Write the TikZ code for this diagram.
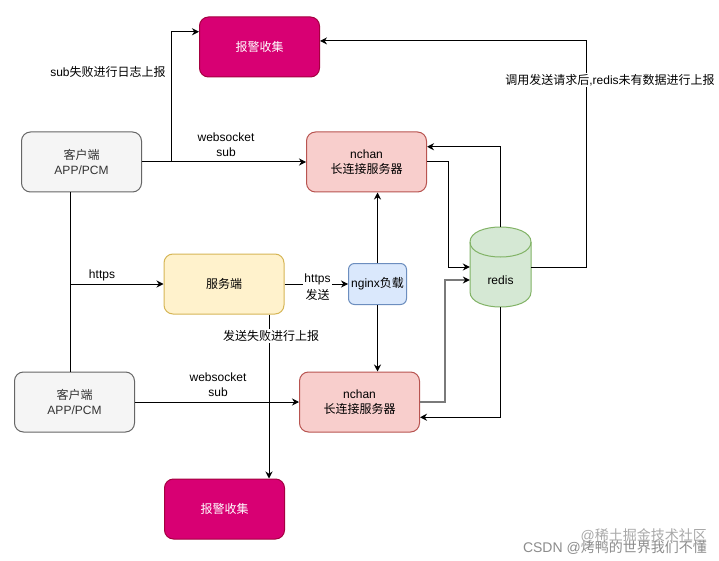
\documentclass[tikz,border=0pt]{standalone}
\usepackage{fontspec}
\setmainfont{Liberation Sans}
\newfontfamily\cjk{Noto Sans CJK SC}
\usetikzlibrary{arrows.meta,calc}
\definecolor{alarmfill}{HTML}{D80073}
\definecolor{alarmdraw}{HTML}{A50040}
\definecolor{clientfill}{HTML}{F5F5F5}
\definecolor{clientdraw}{HTML}{666666}
\definecolor{clienttext}{HTML}{333333}
\definecolor{nchanfill}{HTML}{F8CECC}
\definecolor{nchandraw}{HTML}{B85450}
\definecolor{srvfill}{HTML}{FFF2CC}
\definecolor{srvdraw}{HTML}{D6B656}
\definecolor{nginxfill}{HTML}{DAE8FC}
\definecolor{nginxdraw}{HTML}{6C8EBF}
\definecolor{redisfill}{HTML}{D5E8D4}
\definecolor{redisdraw}{HTML}{82B366}
\definecolor{grayline}{HTML}{7A7A7A}
\definecolor{wmgray}{HTML}{8C8C8C}
\begin{document}
\begin{tikzpicture}[x=1pt,y=-1pt,
  font=\fontsize{12}{15}\selectfont,
  box/.style={rectangle, rounded corners=9pt, draw, line width=1pt,
    minimum width=120pt, minimum height=60pt, inner sep=0pt, align=center},
  alarm/.style={box, fill=alarmfill, draw=alarmdraw, text=white},
  client/.style={box, fill=clientfill, draw=clientdraw, text=clienttext},
  nchan/.style={box, fill=nchanfill, draw=nchandraw},
  server/.style={box, fill=srvfill, draw=srvdraw},
  nginxbox/.style={box, rounded corners=6pt, minimum width=58pt, minimum height=41pt,
    fill=nginxfill, draw=nginxdraw},
  conn/.style={line width=1pt, -{Stealth[length=7pt,width=7pt]}},
  grayconn/.style={draw=grayline, line width=2pt,
    -{Stealth[length=7pt,width=7pt,color=black,line width=0pt]}},
  lbl/.style={fill=white, inner sep=1pt, align=center},
  wm/.style={text=wmgray, font=\fontsize{14}{16}\selectfont, inner sep=0pt, anchor=east}
]
\useasboundingbox[fill=white] (0,0) rectangle (719,561);

% nodes
\node[alarm] (alarmTop) at (259.5,47) {\cjk 报警收集};
\node[client] (client1) at (81.5,162) {{\cjk 客户端}\\APP/PCM};
\node[nchan] (nchan1) at (366.5,162) {nchan\\{\cjk 长连接服务器}};
\node[server] (server) at (224,284) {\cjk 服务端};
\node[nginxbox] (nginx) at (377.5,284) {nginx{\cjk 负载}};
\node[client] (client2) at (74.5,402) {{\cjk 客户端}\\APP/PCM};
\node[nchan] (nchan2) at (359.5,402) {nchan\\{\cjk 长连接服务器}};
\node[alarm] (alarmBot) at (224.5,509) {\cjk 报警收集};

% redis cylinder
\node[minimum width=61pt, minimum height=80pt, inner sep=0pt] (redis) at (500.5,267) {};
\filldraw[fill=redisfill, draw=redisdraw, line width=1pt]
  (470,242) -- (470,292) .. controls (470,312) and (531,312) .. (531,292)
  -- (531,242) .. controls (531,222) and (470,222) .. (470,242) -- cycle;
\draw[draw=redisdraw, line width=1pt] (470,242) .. controls (470,262) and (531,262) .. (531,242);
\node (redislabel) at (500.5,280) {redis};

% connectors
\coordinate (j1) at ($(client1.east)+(29,0)$);
\coordinate (vx) at (70,284);
\coordinate (vx2) at (269,284);

\draw[conn] (client1.east) -- (nchan1.west);
\draw[conn] (j1) |- ($(alarmTop.north west)!0.25!(alarmTop.south west)$);
\draw[conn] (redis.east) -- ++(55,0) |- ($(alarmTop.north east)!0.4!(alarmTop.south east)$);
\draw[line width=1pt] (vx |- client1.south) -- (vx |- client2.north);
\draw[conn] (vx) -- (server.west);
\draw[conn] (server.east) -- (nginx.west);
\draw[conn] (nginx.north) -- (nginx.north |- nchan1.south);
\draw[conn] (nginx.south) -- (nginx.south |- nchan2.north);
\draw[conn] (redis.north) |- ($(nchan1.north east)!0.25!(nchan1.south east)$);
\draw[conn] (nchan1.east) -- ++(21,0) |- (redis.west);
\draw[grayconn] (nchan2.east) -- ++(25,0) |- ($(redis.west)+(0,13)$);
\draw[conn] (redis.south) |- ($(nchan2.north east)!0.75!(nchan2.south east)$);
\draw[conn] (client2.east) -- (nchan2.west);
\draw[conn] (vx2 |- server.south) -- (vx2 |- alarmBot.north);

% labels
\node[lbl] (l1) at (226,145) {websocket\\sub};
\node[lbl] (l2) at (108,72) {sub{\cjk 失败进行日志上报}};
\node[lbl] (l3) at (610,80) {{\cjk 调用发送请求后},redis{\cjk 未有数据进行上报}};
\node[lbl] (l4) at (102,275) {https};
\node[lbl] (l5) at (317.5,287) {https\\[2pt]{\cjk 发送}};
\node[lbl] (l6) at (271,336) {\cjk 发送失败进行上报};
\node[lbl] (l7) at (218,385) {websocket\\sub};

% watermarks
\node[wm] (wm1) at (707,548) {CSDN @{\cjk 烤鸭的世界我们不懂}};
\node[wm, opacity=0.75] (wm2) at (707,536) {@{\cjk 稀土掘金技术社区}};
\end{tikzpicture}
\end{document}
